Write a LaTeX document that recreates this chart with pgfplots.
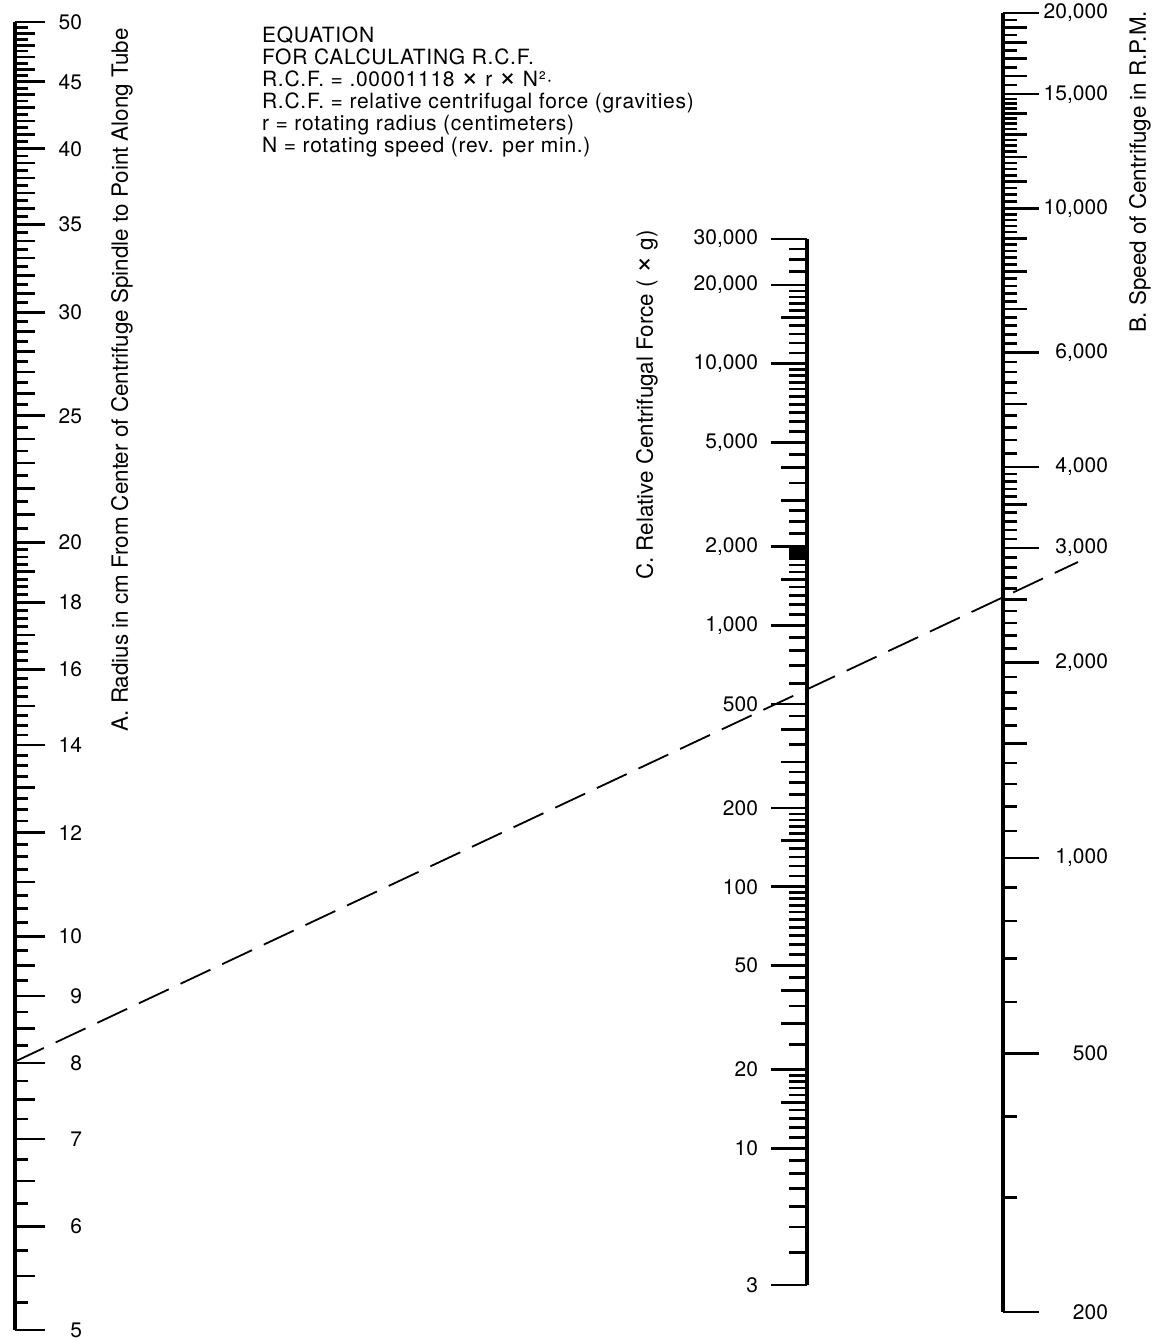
\documentclass[border=0pt]{standalone}
\usepackage{fontspec}
\setmainfont{TeX Gyre Heros}
\newfontfamily\eqfont[LetterSpace=3.5]{TeX Gyre Heros}
\usepackage{pgfplots}
\pgfplotsset{compat=1.18}

% a larger multiplication sign, as in the reference
\newcommand{\mul}{{\fontsize{15}{11}\selectfont ×}}

% look of one log scale of the nomogram: spine, tick widths, label font
\pgfplotsset{
  scalebar/.style={
    scale only axis, width=10pt, hide x axis, clip=false,
    axis line style={line width=1.6pt},
    every tick/.style={black, line width=1.35pt},
    yticklabel style={font=\fontsize{10.5}{12}\selectfont},
    extra y tick labels={},
  },
}

\begin{document}
\begin{tikzpicture}
\path[use as bounding box] (0,0) rectangle (577.5pt,670pt);

% canvas in pixel units of the reference (1155 x 1340)
\begin{axis}[
    at={(0,0)}, anchor=south west,
    scale only axis, width=577.5pt, height=670pt,
    xmin=0, xmax=1155, ymin=0, ymax=1340, y dir=reverse,
    hide axis, clip=false,
]
\addplot[black, line width=0.9pt, dash pattern=on 16.5pt off 6.5pt] coordinates {(14,1062) (1078,562)};

\node[anchor=north west, align=left, font=\eqfont\fontsize{10.5}{11}\selectfont] at (axis cs:255,20)
  {EQUATION\\FOR CALCULATING R.C.F.\\R.C.F. = .00001118 \mul{} r \mul{} N²·\\R.C.F. = relative centrifugal force (gravities)\\r = rotating radius (centimeters)\\N = rotating speed (rev. per min.)};

\node[rotate=90, font=\fontsize{11.2}{13}\selectfont] at (axis cs:122,380)
  {A. Radius in cm From Center of Centrifuge Spindle to Point Along Tube};
\node[rotate=90, font=\fontsize{11.2}{13}\selectfont] at (axis cs:647,405)
  {C. Relative Centrifugal Force ( \mul{} g)};
\node[rotate=90, font=\fontsize{11.2}{13}\selectfont] at (axis cs:1140,172)
  {B. Speed of Centrifuge in R.P.M.};
\end{axis}

% A: radius, 5 .. 50 cm
\begin{axis}[ymode=log, xmin=0, xmax=1, ymin=5, ymax=50, enlargelimits=false,
    scalebar,
    at={(7.5pt,5pt)}, anchor=south east, height=654pt,
    axis y line*=right, tick align=outside,
    major tick length=15pt, minor tick length=6.5pt,
    ytick={5,6,7,8,9,10,12,14,16,18,20,25,30,35,40,45,50},
    yticklabels={5,6,7,8,9,10,12,14,16,18,20,25,30,35,40,45,50},
    yticklabel style={anchor=east, xshift=22pt},
    extra y ticks={5.5,6.5,7.5,8.5,9.5,11,13,15,17,19,21,22,23,24,26,27,28,29,31,32,33,34,36,37,38,39,41,42,43,44,46,47,48,49},
    extra y tick style={major tick length=10pt},
    minor ytick={5.25,5.75,6.25,6.75,7.25,7.75,8.25,8.75,9.25,9.75,
      10.25,10.5,10.75,11.25,11.5,11.75,12.25,12.5,12.75,13.25,13.5,13.75,
      14.25,14.5,14.75,15.25,15.5,15.75,16.25,16.5,16.75,17.25,17.5,17.75,
      18.25,18.5,18.75,19.25,19.5,19.75,
      20.5,21.5,22.5,23.5,24.5,25.5,26.5,27.5,28.5,29.5,30.5,31.5,32.5,33.5,34.5,
      35.5,36.5,37.5,38.5,39.5,40.5,41.5,42.5,43.5,44.5,45.5,46.5,47.5,48.5,49.5},
]
\end{axis}

% C: relative centrifugal force, 3 .. 30,000 x g
\begin{axis}[ymode=log, xmin=0, xmax=1, ymin=3, ymax=30000, enlargelimits=false,
    scalebar,
    at={(403.5pt,27.5pt)}, anchor=south west, height=523pt,
    axis y line*=left, tick align=outside,
    major tick length=18pt, minor tick length=9pt,
    ytick={3,10,20,50,100,200,500,1000,2000,5000,10000,20000,30000},
    yticklabels={3,10,20,50,100,200,500,{1,000},{2,000},{5,000},{10,000},{20,000},{30,000}},
    yticklabel style={anchor=east, xshift=-3pt},
    extra y ticks={15,30,40,150,300,400,1500,3000,4000,15000},
    extra y tick style={major tick length=13pt},
    minor ytick={4,5,6,7,8,9,11,12,13,14,16,17,18,19,25,35,45,
      55,60,65,70,75,80,85,90,95,110,120,130,140,160,170,180,190,
      225,250,275,350,450,600,700,800,900,
      1100,1200,1300,1400,1600,1700,1800,1850,1900,1950,
      2250,2500,2750,3500,4500,5500,6000,6500,7000,7500,8000,8500,9000,9500,
      11000,12000,13000,14000,16000,17000,18000,19000,22500,25000,27500},
]
\end{axis}

% B: speed of centrifuge, 200 .. 20,000 rpm
\begin{axis}[ymode=log, xmin=0, xmax=1, ymin=200, ymax=20000, enlargelimits=false,
    scalebar,
    at={(501.5pt,14pt)}, anchor=south east, height=649.5pt,
    axis y line*=right, tick align=outside,
    major tick length=18pt, minor tick length=7pt,
    ytick={200,500,1000,2000,3000,4000,6000,10000,15000,20000},
    yticklabels={200,500,{1,000},{2,000},{3,000},{4,000},{6,000},{10,000},{15,000},{20,000}},
    yticklabel style={anchor=east, xshift=38pt},
    extra y ticks={1500,2500,3500,5000,7000,8000,9000,11000,12000,13000,14000,16000,17000,18000,19000},
    extra y tick style={major tick length=12pt},
    minor ytick={300,400,600,700,800,900,1100,1200,1300,1400,1600,1700,1800,1900,
      2100,2200,2300,2400,2600,2700,2800,2900,3100,3200,3300,3400,3600,3700,3800,3900,
      4200,4400,4600,4800,5200,5400,5600,5800,
      6200,6400,6600,6800,7200,7400,7600,7800,8200,8400,8600,8800,9200,9400,9600,9800,
      10250,10500,10750,11250,11500,11750,12250,12500,12750,13250,13500,13750,14250,14500,14750,
      15500,16500,17500,18500,19500},
]
\end{axis}
\end{tikzpicture}
\end{document}
